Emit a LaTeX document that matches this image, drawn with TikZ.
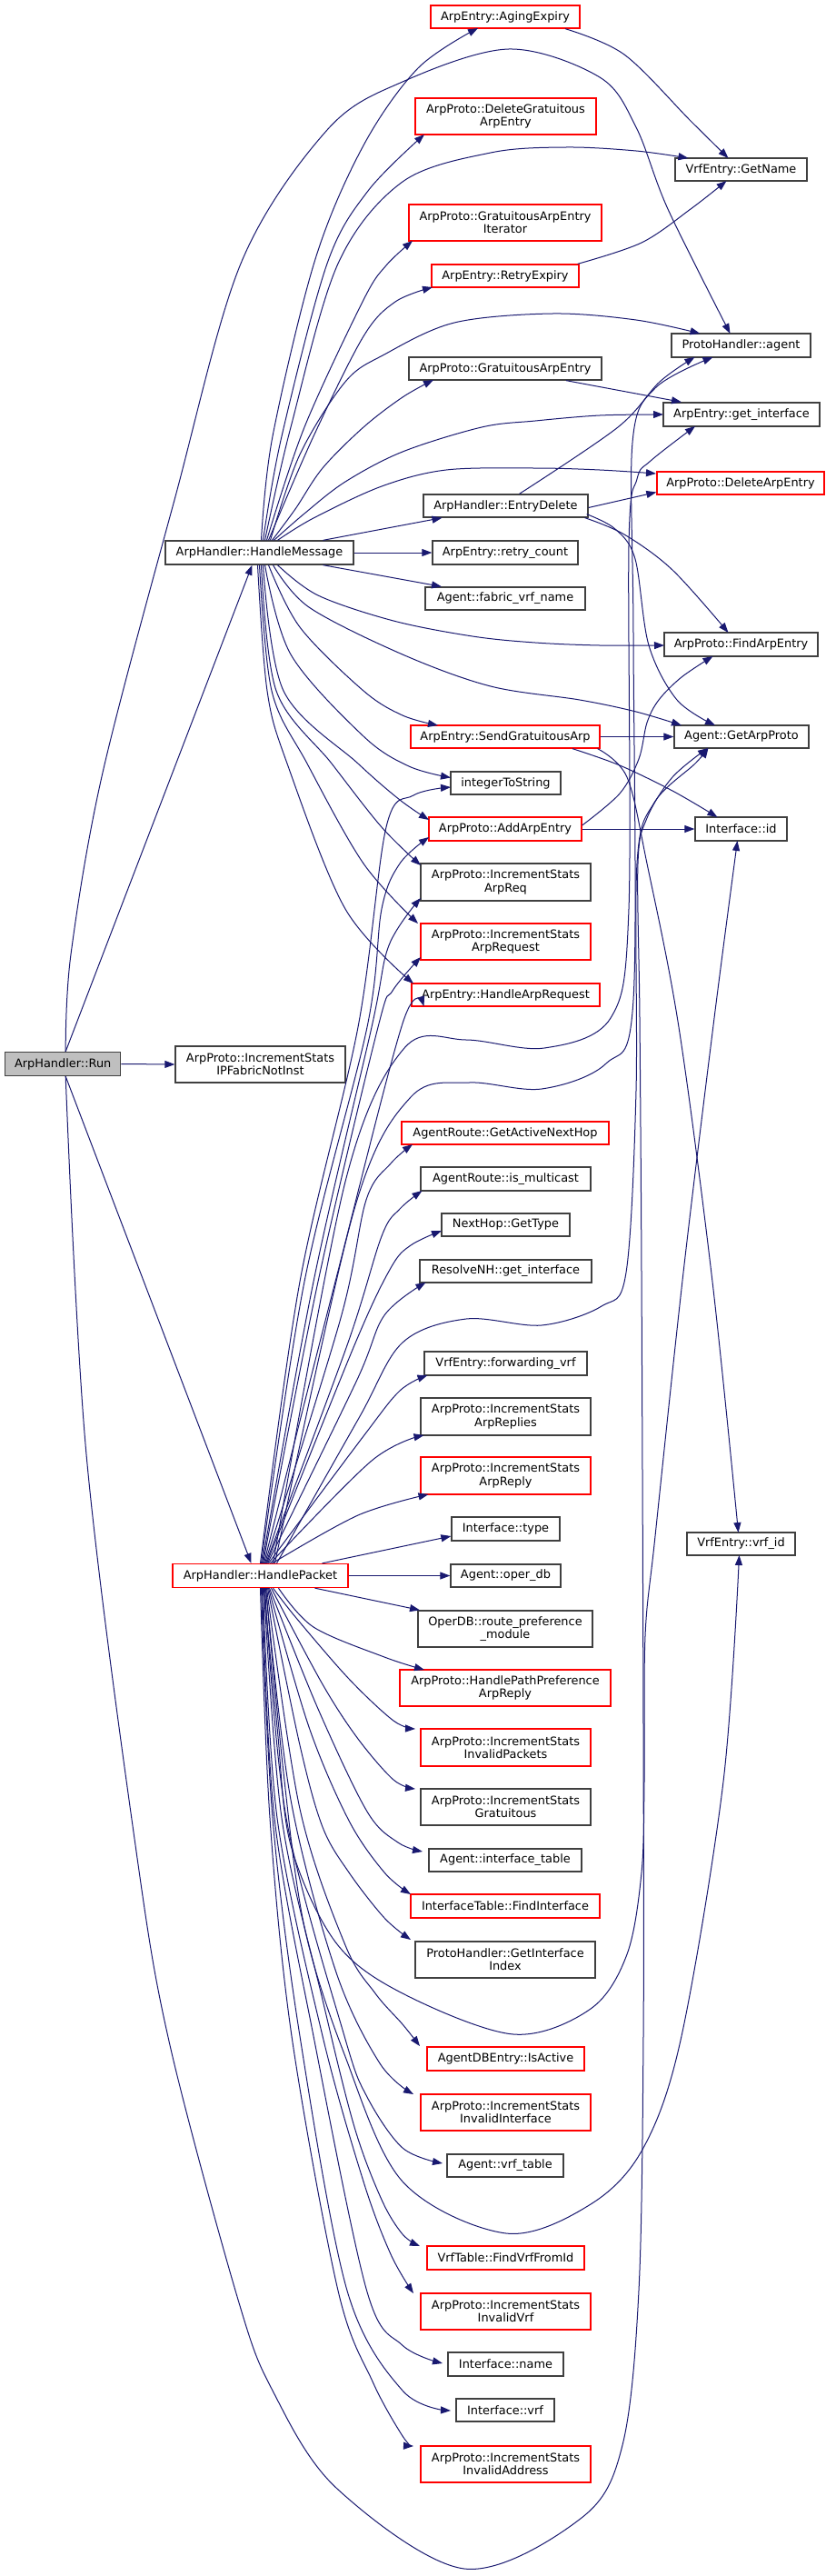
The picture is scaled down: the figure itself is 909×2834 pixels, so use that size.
\documentclass[tikz,border=0pt]{standalone}
\usepackage{fontspec}
\setmainfont{DejaVu Sans}
\usetikzlibrary{arrows.meta}
\definecolor{edgec}{HTML}{191970}
\definecolor{redb}{HTML}{FF0000}
\definecolor{blackb}{HTML}{404040}
\definecolor{runfill}{HTML}{BFBFBF}
\tikzset{
 box/.style={draw=blackb, line width=1.3pt, fill=white, inner sep=0pt, align=center, font=\fontsize{12.9}{14.2}\selectfont},
 rbox/.style={box, draw=redb},
 edge/.style={draw=edgec, line width=1pt, -{Triangle[length=11pt,width=8pt]}},
 sm/.style={smooth, tension=0.55},
}
\begin{document}
\begin{tikzpicture}[x=1pt,y=-1pt]
\fill[white] (0,0) rectangle (909,2834);
\useasboundingbox (0,0) rectangle (909,2834);
% left column
\node[box, fill=runfill, minimum width=127pt, minimum height=26pt] (run) at (69.2,1170.5) {ArpHandler::Run};
\node[box, minimum width=207pt, minimum height=26pt] (hm) at (285.5,608) {ArpHandler::HandleMessage};
\node[box, minimum width=187pt, minimum height=40pt] (fabnot) at (286.5,1171) {ArpProto::IncrementStats\\IPFabricNotInst};
\node[rbox, minimum width=193pt, minimum height=26pt] (hp) at (286.5,1733.5) {ArpHandler::HandlePacket};
% middle column
\node[rbox, minimum width=164pt, minimum height=25pt] (aging) at (556,18.5) {ArpEntry::AgingExpiry};
\node[rbox, minimum width=199pt, minimum height=40pt] (delgrat) at (556.5,128) {ArpProto::DeleteGratuitous\\ArpEntry};
\node[rbox, minimum width=212pt, minimum height=40pt] (gratiter) at (556,245) {ArpProto::GratuitousArpEntry\\Iterator};
\node[rbox, minimum width=162pt, minimum height=25pt] (retryexp) at (556,303.5) {ArpEntry::RetryExpiry};
\node[box, minimum width=212pt, minimum height=25pt] (gratentry) at (556,405.5) {ArpProto::GratuitousArpEntry};
\node[box, minimum width=181pt, minimum height=25pt] (entrydel) at (556.5,556.5) {ArpHandler::EntryDelete};
\node[box, minimum width=160pt, minimum height=26pt] (retrycnt) at (556,608) {ArpEntry::retry\_count};
\node[box, minimum width=176pt, minimum height=25pt] (fabvrf) at (556,658.5) {Agent::fabric\_vrf\_name};
\node[rbox, minimum width=208pt, minimum height=25pt] (sendgrat) at (556,810.5) {ArpEntry::SendGratuitousArp};
\node[box, minimum width=121pt, minimum height=25pt] (int2str) at (556.5,861.5) {integerToString};
\node[rbox, minimum width=168pt, minimum height=26pt] (addarp) at (556,912) {ArpProto::AddArpEntry};
\node[box, minimum width=187pt, minimum height=41pt] (arpreq) at (556.5,970.5) {ArpProto::IncrementStats\\ArpReq};
\node[rbox, minimum width=187pt, minimum height=40pt] (arprequest) at (556.5,1036) {ArpProto::IncrementStats\\ArpRequest};
\node[rbox, minimum width=207pt, minimum height=25pt] (handlearpreq) at (556.5,1094.5) {ArpEntry::HandleArpRequest};
\node[rbox, minimum width=228pt, minimum height=25pt] (activenh) at (556,1246.5) {AgentRoute::GetActiveNextHop};
\node[box, minimum width=187pt, minimum height=26pt] (ismcast) at (556.5,1297) {AgentRoute::is\_multicast};
\node[box, minimum width=141pt, minimum height=25pt] (gettype) at (556.5,1347.5) {NextHop::GetType};
\node[box, minimum width=189pt, minimum height=25pt] (resolvenh) at (556.5,1398.5) {ResolveNH::get\_interface};
\node[box, minimum width=179pt, minimum height=26pt] (fwdvrf) at (556.5,1500) {VrfEntry::forwarding\_vrf};
\node[box, minimum width=187pt, minimum height=41pt] (arpreplies) at (556.5,1558.5) {ArpProto::IncrementStats\\ArpReplies};
\node[rbox, minimum width=187pt, minimum height=41pt] (arpreply) at (556.5,1623.5) {ArpProto::IncrementStats\\ArpReply};
\node[box, minimum width=119pt, minimum height=26pt] (itype) at (556.5,1682) {Interface::type};
\node[box, minimum width=121pt, minimum height=25pt] (operdb) at (556.5,1733.5) {Agent::oper\_db};
\node[box, minimum width=192pt, minimum height=40pt] (routepref) at (556,1792) {OperDB::route\_preference\\\_module};
\node[rbox, minimum width=232pt, minimum height=40pt] (pathpref) at (556,1857) {ArpProto::HandlePathPreference\\ArpReply};
\node[rbox, minimum width=187pt, minimum height=41pt] (invpkts) at (556.5,1922.5) {ArpProto::IncrementStats\\InvalidPackets};
\node[box, minimum width=187pt, minimum height=40pt] (gratuitous) at (556.5,1988) {ArpProto::IncrementStats\\Gratuitous};
\node[box, minimum width=168pt, minimum height=25pt] (inttable) at (556,2046.5) {Agent::interface\_table};
\node[rbox, minimum width=208pt, minimum height=26pt] (findintf) at (556,2097) {InterfaceTable::FindInterface};
\node[box, minimum width=198pt, minimum height=40pt] (getintfidx) at (556,2156) {ProtoHandler::GetInterface\\Index};
\node[rbox, minimum width=173pt, minimum height=26pt] (isactive) at (556.5,2265) {AgentDBEntry::IsActive};
\node[rbox, minimum width=187pt, minimum height=40pt] (invintf) at (556.5,2324) {ArpProto::IncrementStats\\InvalidInterface};
\node[box, minimum width=128pt, minimum height=25pt] (vrftable) at (556,2382.5) {Agent::vrf\_table};
\node[rbox, minimum width=173pt, minimum height=26pt] (findvrf) at (556.5,2484) {VrfTable::FindVrfFromId};
\node[rbox, minimum width=187pt, minimum height=40pt] (invvrf) at (556.5,2543) {ArpProto::IncrementStats\\InvalidVrf};
\node[box, minimum width=127pt, minimum height=26pt] (iname) at (556.5,2601) {Interface::name};
\node[box, minimum width=108pt, minimum height=25pt] (ivrf) at (556,2651.5) {Interface::vrf};
\node[rbox, minimum width=187pt, minimum height=40pt] (invaddr) at (556.5,2711) {ArpProto::IncrementStats\\InvalidAddress};
% right column
\node[box, minimum width=145pt, minimum height=25pt] (getname) at (815.5,186.5) {VrfEntry::GetName};
\node[box, minimum width=153pt, minimum height=26pt] (phagent) at (815.5,380) {ProtoHandler::agent};
\node[box, minimum width=172pt, minimum height=26pt] (getintf) at (816,456) {ArpEntry::get\_interface};
\node[rbox, minimum width=184pt, minimum height=25pt] (delarp) at (815,531.5) {ArpProto::DeleteArpEntry};
\node[box, minimum width=169pt, minimum height=26pt] (findarp) at (815.5,709) {ArpProto::FindArpEntry};
\node[box, minimum width=148pt, minimum height=25pt] (getarpproto) at (816,810.5) {Agent::GetArpProto};
\node[box, minimum width=101pt, minimum height=26pt] (iid) at (815.5,912) {Interface::id};
\node[box, minimum width=119pt, minimum height=25pt] (vrfid) at (815.5,1698.5) {VrfEntry::vrf\_id};

% ---- edges from Run
\draw[edge] plot[sm] coordinates {([xshift=3pt]run.north) (78,1050) (113,850) (192,550) (265,290) (360,143) (443,90) (560,54) (660,85) (700,140) (735,230) (803.5,367)};
\draw[edge] ([xshift=3pt]run.north) -- ([xshift=-8pt]hm.south);
\draw[edge] (run.east) -- (fabnot.west);
\draw[edge] ([xshift=3pt]run.south) -- ([xshift=-10pt]hp.north);
\draw[edge] plot[sm] coordinates {([xshift=3pt]run.south) (95,1600) (150,2037) (187,2250) (262,2530) (300,2630) (370,2737) (511,2826) (640,2770) (685,2690) (703,2520) (708,2240) (708,1900) (706,1400) (704,1120) (702,950) (712,900) (740,855) (779,823)};

% ---- edges from HandleMessage
\draw[edge] plot[sm] coordinates {([xshift=2pt]hm.north) (300,480) (347,285) (400,160) (460,75) (526,31)};
\draw[edge] plot[sm] coordinates {([xshift=4pt]hm.north) (310,480) (360,290) (405,210) (467,148)};
\draw[edge] plot[sm] coordinates {([xshift=6pt]hm.north) (320,470) (372,290) (443,200) (540,168) (623,162) (700,166) (757.5,174)};
\draw[edge] plot[sm] coordinates {([xshift=8pt]hm.north) (335,470) (400,330) (425,292) (454,265)};
\draw[edge] plot[sm] coordinates {([xshift=10pt]hm.north) (345,480) (400,370) (435,332) (476,316)};
\draw[edge] plot[sm] coordinates {([xshift=12pt]hm.north) (330,500) (380,420) (423,390) (500,355) (608,345) (700,352) (770.5,367)};
\draw[edge] plot[sm] coordinates {([xshift=14pt]hm.north) (325,560) (355,515) (400,470) (443,437) (477,418)};
\draw[edge] plot[sm] coordinates {([xshift=16pt]hm.north) (335,565) (380,530) (443,497) (530,470) (589,463) (660,457) (730,456)};
\draw[edge] plot[sm] coordinates {([xshift=20pt]hm.north) (345,570) (420,535) (491,517) (589,515) (660,517) (722,521)};
\draw[edge] ([xshift=70pt]hm.north) -- ([xshift=-70pt]entrydel.south);
\draw[edge] (hm.east) -- (retrycnt.west);
\draw[edge] ([xshift=70pt]hm.south) -- ([xshift=-70pt]fabvrf.north);
\draw[edge] plot[sm] coordinates {([xshift=20pt]hm.south) (350,655) (433,683) (520,700) (589,707) (660,710) (731,710)};
\draw[edge] plot[sm] coordinates {([xshift=15pt]hm.south) (340,668) (443,720) (540,755) (638,770) (700,783) (750,798)};
\draw[edge] plot[sm] coordinates {([xshift=10pt]hm.south) (330,690) (400,760) (443,787) (482,798)};
\draw[edge] plot[sm] coordinates {([xshift=6pt]hm.south) (320,720) (400,810) (450,843) (496,855.5)};
\draw[edge] plot[sm] coordinates {([xshift=4pt]hm.south) (312,760) (394,840) (440,880) (472,902)};
\draw[edge] plot[sm] coordinates {([xshift=2pt]hm.south) (304,760) (365,840) (420,910) (463,952)};
\draw[edge] plot[sm] coordinates {(hm.south) (299,760) (338,840) (400,950) (460,1016)};
\draw[edge] plot[sm] coordinates {([xshift=-2pt]hm.south) (294,760) (316,840) (380,1000) (455,1082)};

% ---- other upper edges
\draw[edge] plot[sm] coordinates {([xshift=66pt]aging.south) (687,60) (760,133) (801.5,174)};
\draw[edge] plot[sm] coordinates {([xshift=-2pt]retryexp.north east) (706,267) (760,230) (799.5,199)};
\draw[edge] ([xshift=67pt]gratentry.south) -- ([xshift=-66pt]getintf.north);
\draw[edge] plot[sm] coordinates {([xshift=15pt]entrydel.north) (680,470) (726,420) (764.5,393)};
\draw[edge] ([yshift=-2pt]entrydel.east) -- ([yshift=-10pt]delarp.west);
\draw[edge] plot[sm] coordinates {([xshift=-4pt]entrydel.south east) (687,588) (740,627) (801.5,696)};
\draw[edge] plot[sm] coordinates {([xshift=-2pt,yshift=4pt]entrydel.south east) (677,582) (699,615) (714,710) (745,770) (787,798)};
\draw[edge] (sendgrat.east) -- (getarpproto.west);
\draw[edge] plot[sm] coordinates {([xshift=74pt]sendgrat.south) (682,842) (740,870) (789.5,899)};
\draw[edge] plot[sm] coordinates {([xshift=-3pt]sendgrat.south east) (690,855) (712,950) (747,1130) (784,1410) (812.5,1686)};
\draw[edge] (addarp.east) -- (iid.west);
\draw[edge] plot[sm] coordinates {([yshift=4pt]addarp.east) (682,873) (703,835) (712,795) (725,770) (750,745) (784.5,722)};

% ---- edges from HandlePacket going up to the right column
\draw[edge] plot[sm] coordinates {([xshift=14pt]hp.north) (380,1300) (445,1153) (513,1144) (599,1153) (672,1120) (692,1000) (692,600) (701,527) (716,507) (765,469)};
\draw[edge] plot[sm] coordinates {([xshift=16pt]hp.north) (390,1330) (452,1207) (516,1191) (596,1198) (667,1170) (697,1100) (697,700) (696,487) (721,427) (784.5,393)};
\draw[edge] plot[sm] coordinates {([xshift=18pt]hp.north) (395,1560) (443,1477) (513,1451) (596,1458) (662,1437) (689,1400) (700,1200) (701,950) (720,883) (765,840) (779.5,823)};
\draw[edge] plot[sm] coordinates {([xshift=4pt]hp.south) (305,1900) (320,2030) (369.5,2137) (443,2193) (565,2238) (650,2210) (690,2150) (706,2060) (709,1960) (710,1800) (721,1690) (752,1400) (786,1120) (811.5,925)};
\draw[edge] plot[sm] coordinates {([xshift=6pt]hp.south) (312,1950) (335,2120) (379,2260) (443,2400) (557,2457) (650,2425) (708,2363) (750,2240) (796,1960) (813.5,1711)};

% ---- edges from HandlePacket to middle column (up)
\draw[edge] plot[sm] coordinates {([xshift=0pt]hp.north) (330,1410) (394,1130) (425,910) (455,875) (496,866)};
\draw[edge] plot[sm] coordinates {([xshift=1pt]hp.north) (335,1410) (404,1130) (420,1000) (440,950) (472,921)};
\draw[edge] plot[sm] coordinates {([xshift=2pt]hp.north) (345,1410) (409,1130) (428,1040) (463,988)};
\draw[edge] plot[sm] coordinates {([xshift=3pt]hp.north) (350,1410) (416,1130) (432,1090) (463,1053)};
\draw[edge] plot[sm] coordinates {([xshift=4pt]hp.north) (369,1410) (443,1126) (466.5,1107)};
\draw[edge] plot[sm] coordinates {([xshift=5pt]hp.north) (375,1450) (403,1320) (430,1280) (454,1259)};
\draw[edge] plot[sm] coordinates {([xshift=6pt]hp.north) (382,1480) (420,1360) (440,1330) (464.5,1310)};
\draw[edge] plot[sm] coordinates {([xshift=7pt]hp.north) (390,1480) (430,1395) (452,1370) (486,1354)};
\draw[edge] plot[sm] coordinates {([xshift=8pt]hp.north) (392,1520) (423,1447) (468.5,1411)};
\draw[edge] plot[sm] coordinates {([xshift=9pt]hp.north) (400,1580) (440,1530) (470.5,1513)};
\draw[edge] plot[sm] coordinates {([xshift=11pt]hp.north) (409,1607) (466.5,1579)};
\draw[edge] plot[sm] coordinates {([xshift=13pt]hp.north) (394,1667) (471.5,1644)};
\draw[edge] ([xshift=68pt]hp.north) -- ([yshift=-8pt]itype.west);
\draw[edge] (hp.east) -- (operdb.west);
% ---- edges from HandlePacket to middle column (down)
\draw[edge] ([xshift=60pt]hp.south) -- ([xshift=-94pt]routepref.north);
\draw[edge] plot[sm] coordinates {([xshift=20pt]hp.south) (345,1790) (423,1823) (467,1837)};
\draw[edge] plot[sm] coordinates {([xshift=14pt]hp.south) (326,1780) (384,1847) (433,1893) (457,1902)};
\draw[edge] plot[sm] coordinates {([xshift=12pt]hp.south) (355,1853) (394,1913) (433,1958) (457,1968)};
\draw[edge] plot[sm] coordinates {([xshift=10pt]hp.south) (350,1880) (404,1993) (438,2027) (465,2037)};
\draw[edge] plot[sm] coordinates {([xshift=9pt]hp.south) (340,1900) (384,2003) (423,2060) (452,2084)};
\draw[edge] plot[sm] coordinates {([xshift=8pt]hp.south) (330,1920) (355,2010) (384,2060) (423,2110) (452,2134)};
\draw[edge] plot[sm] coordinates {([xshift=7pt]hp.south) (330,1990) (380,2140) (413,2193) (443,2227) (462,2251)};
\draw[edge] plot[sm] coordinates {([xshift=6pt]hp.south) (320,1980) (370,2170) (418,2270) (455,2304)};
\draw[edge] plot[sm] coordinates {([xshift=5pt]hp.south) (315,2000) (379,2240) (404,2307) (443,2363) (487,2380)};
\draw[edge] plot[sm] coordinates {([xshift=4pt]hp.south) (310,2000) (355,2200) (390,2340) (420,2420) (443,2458) (462,2471)};
\draw[edge] plot[sm] coordinates {([xshift=3pt]hp.south) (305,2000) (355,2240) (400,2400) (430,2480) (455,2523)};
\draw[edge] plot[sm] coordinates {([xshift=2pt]hp.south) (302,2000) (345,2240) (403.6,2520) (442.7,2580) (487,2600)};
\draw[edge] plot[sm] coordinates {([xshift=1pt]hp.south) (300,2000) (330,2240) (382,2520) (443,2630) (496,2652)};
\draw[edge] plot[sm] coordinates {(hp.south) (297,2000) (321,2240) (372,2520) (410,2620) (443,2680) (455,2691)};
\end{tikzpicture}
\end{document}
